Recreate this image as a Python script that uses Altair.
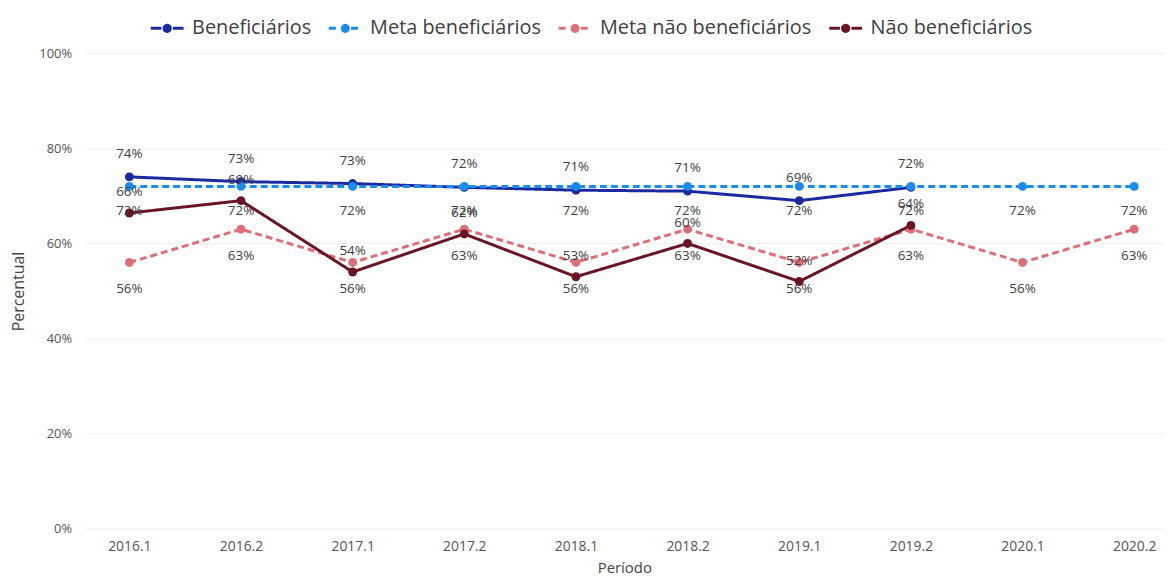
import altair as alt
import pandas as pd

periodos = ["2016.1", "2016.2", "2017.1", "2017.2", "2018.1",
            "2018.2", "2019.1", "2019.2", "2020.1", "2020.2"]
beneficiarios = [74, 73, 72.6, 71.8, 71.2, 71.0, 69, 71.8, None, None]
meta_beneficiarios = [72, 72, 72, 72, 72, 72, 72, 72, 72, 72]
meta_nao_beneficiarios = [56, 63, 56, 63, 56, 63, 56, 63, 56, 63]
nao_beneficiarios = [66.4, 69, 54, 62, 53, 60, 52, 63.8, None, None]

series_names = ["Beneficiários", "Meta beneficiários",
                "Meta não beneficiários", "Não beneficiários"]
series_values = [beneficiarios, meta_beneficiarios,
                 meta_nao_beneficiarios, nao_beneficiarios]
colors = ["#1B2A9E", "#1A8CF0", "#DE6E78", "#6A1524"]
dashes = [[1, 0], [7, 4], [7, 4], [1, 0]]
label_dy = [-23, 25, 27, -21]

rows = []
for name, vals in zip(series_names, series_values):
    for p, v in zip(periodos, vals):
        if v is None:
            continue
        rows.append({"Período": p, "Valor": v, "Série": name,
                     "Rótulo": f"{round(v):.0f}%"})
df = pd.DataFrame(rows)

FONT = "Open Sans"

x_enc = alt.X("Período:O", sort=periodos,
              scale=alt.Scale(type="point", padding=0.334, align=0.6),
              axis=alt.Axis(title="Período", labelAngle=0, ticks=False,
                            domain=False, grid=False, labelPadding=11,
                            titlePadding=7, labelFontSize=14,
                            labelColor="#555555", titleFontSize=15,
                            titleColor="#444444", titleFontWeight="normal"))
y_enc = alt.Y("Valor:Q", scale=alt.Scale(domain=[0, 100]),
              axis=alt.Axis(values=[0, 20, 40, 60, 80, 100],
                            labelExpr="datum.value + '%'",
                            title="Percentual", gridColor="#efefef",
                            domain=False, ticks=False, labelPadding=13,
                            titlePadding=12, labelFontSize=13,
                            labelColor="#555555", titleFontSize=16,
                            titleColor="#444444", titleFontWeight="normal"))

# legend symbol: short line on each side with a dot in the middle
legend_symbol = (
    "M-1,0L-0.35,0M0.35,0L1,0"
    "M0.188,0A0.188,0.188,0,0,1,-0.094,0.1628"
    "M-0.094,0.1628A0.188,0.188,0,0,1,-0.094,-0.1628"
    "M-0.094,-0.1628A0.188,0.188,0,0,1,0.188,0"
    "M0.09,0A0.09,0.09,0,0,1,-0.09,0"
    "M-0.09,0A0.09,0.09,0,0,1,0.09,0"
)

legend_kw = dict(title=None, orient="none", direction="horizontal",
                 legendX=65, legendY=-43, labelFontSize=20,
                 labelColor="#404040", labelFont=FONT, symbolSize=1089,
                 symbolType=legend_symbol, symbolStrokeWidth=3,
                 labelOffset=7, columnPadding=11, columns=4, labelLimit=400)

lines = alt.Chart(df).mark_line(strokeWidth=3).encode(
    x=x_enc, y=y_enc,
    stroke=alt.Stroke("Série:N", scale=alt.Scale(range=colors),
                      legend=alt.Legend(**legend_kw)),
    strokeDash=alt.StrokeDash("Série:N", scale=alt.Scale(range=dashes),
                              legend=alt.Legend(**legend_kw)),
)

points = alt.Chart(df).mark_circle(size=80, opacity=1).encode(
    x=x_enc, y=y_enc,
    fill=alt.Fill("Série:N", scale=alt.Scale(range=colors), legend=None),
)

texts = []
for name, dy in zip(series_names, label_dy):
    texts.append(
        alt.Chart(df).transform_filter(
            alt.FieldEqualPredicate(field="Série", equal=name)
        ).mark_text(dy=dy, fontSize=13.5, color="#404040", font=FONT).encode(
            x=x_enc, y=y_enc, text="Rótulo:N")
    )

chart = alt.layer(lines, points, *texts).properties(
    width=1085, height=478,
    autosize=alt.AutoSizeParams(type="none"),
    padding={"left": 77, "top": 44, "right": 2, "bottom": 46},
).configure(font=FONT).configure_view(stroke=None)

chart.save("out.html", embed_options={"renderer": "svg", "actions": False})
